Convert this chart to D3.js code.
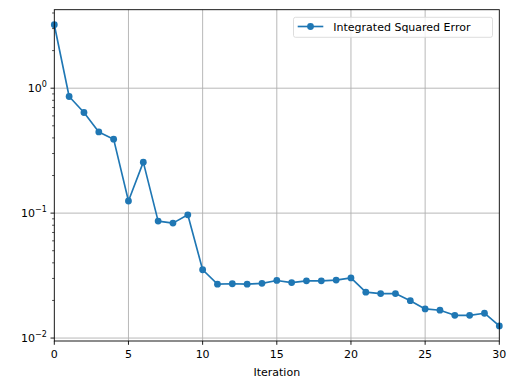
<!DOCTYPE html>
<html><head><meta charset="utf-8">
<script src="https://cdn.jsdelivr.net/npm/d3@7"></script>
<style>body{margin:0;background:#fff}svg{display:block;font-family:"DejaVu Sans",sans-serif}</style>
</head><body>
<svg id="c" width="507" height="379"></svg>
<script>
const iterations = d3.range(0, 31);
const errors = [3.22, 0.858, 0.639, 0.447, 0.391, 0.125, 0.256, 0.0863, 0.0832, 0.0969,
  0.0352, 0.0270, 0.0272, 0.0270, 0.0274, 0.0289, 0.0278, 0.0287, 0.0287, 0.0291,
  0.0303, 0.0233, 0.0227, 0.0227, 0.0199, 0.0171, 0.0167, 0.0152, 0.0152, 0.0158, 0.0125];
const xTicks = [0, 5, 10, 15, 20, 25, 30];
const yTicks = [1, 0.1, 0.01];
const yTickExp = ["0", "\u22121", "\u22122"];
const seriesName = "Integrated Squared Error";
const xLabel = "Iteration";

const L = 54.3, R = 499.3, T = 9.7, B = 341;
const svg = d3.select("#c");
const color = "#1f77b4";
const x = d3.scaleLinear().domain([0, 30]).range([L, R]);
const lmin = Math.log10(d3.min(errors)), lmax = Math.log10(d3.max(errors));
const m = (lmax - lmin) * 0.05;
const y = d3.scaleLog().domain([Math.pow(10, lmin - m), Math.pow(10, lmax + m)]).range([B, T]);

const g = svg.append("g");
// grid
g.selectAll(".gx").data(xTicks.filter(t => t > 0 && t < 30)).join("line")
  .attr("x1", d => x(d)).attr("x2", d => x(d)).attr("y1", T).attr("y2", B)
  .attr("stroke", "#b0b0b0").attr("stroke-width", 0.9);
g.selectAll(".gy").data(yTicks).join("line")
  .attr("x1", L).attr("x2", R).attr("y1", d => y(d)).attr("y2", d => y(d))
  .attr("stroke", "#b0b0b0").attr("stroke-width", 0.9);

// line + markers
const line = d3.line().x((d, i) => x(iterations[i])).y(d => y(d));
g.append("path").datum(errors).attr("d", line).attr("fill", "none")
  .attr("stroke", color).attr("stroke-width", 1.65).attr("stroke-linejoin", "round");
g.selectAll(".pt").data(errors).join("circle")
  .attr("cx", (d, i) => x(iterations[i])).attr("cy", d => y(d)).attr("r", 3.4).attr("fill", color);

// spines (clip markers outside by drawing white? keep simple)
svg.append("rect").attr("x", L).attr("y", T).attr("width", R - L).attr("height", B - T)
  .attr("fill", "none").attr("stroke", "#000").attr("stroke-width", 0.9);

// x axis ticks
const xa = svg.append("g");
xTicks.forEach(t => {
  xa.append("line").attr("x1", x(t)).attr("x2", x(t)).attr("y1", B).attr("y2", B + 3.8)
    .attr("stroke", "#000").attr("stroke-width", 0.9);
  xa.append("text").attr("x", x(t)).attr("y", B + 17).attr("text-anchor", "middle")
    .attr("font-size", 11).attr("fill", "#000").text(t);
});
svg.append("text").attr("x", (L + R) / 2).attr("y", B + 35).attr("text-anchor", "middle")
  .attr("font-size", 11).attr("fill", "#000").text(xLabel);

// y axis ticks
const ya = svg.append("g");
const [d0, d1] = y.domain();
const minors = [];
for (let e = -3; e <= 1; e++) for (let k = 2; k <= 9; k++) {
  const v = k * Math.pow(10, e);
  if (v >= d0 && v <= d1) minors.push(v);
}
minors.forEach(v => ya.append("line").attr("x1", L - 2.2).attr("x2", L).attr("y1", y(v)).attr("y2", y(v))
  .attr("stroke", "#000").attr("stroke-width", 0.7));
yTicks.forEach((t, i) => {
  ya.append("line").attr("x1", L - 3.8).attr("x2", L).attr("y1", y(t)).attr("y2", y(t))
    .attr("stroke", "#000").attr("stroke-width", 0.9);
  const tx = ya.append("text").attr("x", L - 7.5).attr("y", y(t) + 4).attr("text-anchor", "end")
    .attr("font-size", 11).attr("fill", "#000");
  tx.append("tspan").text("10");
  tx.append("tspan").attr("dy", -5).attr("font-size", 8).text(yTickExp[i]);
});

// legend
const lg = svg.append("g");
lg.append("rect").attr("x", 293.5).attr("y", 17.3).attr("width", 199).attr("height", 20)
  .attr("rx", 2).attr("fill", "#fff").attr("fill-opacity", 0.8).attr("stroke", "#d9d9d9").attr("stroke-width", 0.9);
lg.append("line").attr("x1", 297.7).attr("x2", 323.3).attr("y1", 26.5).attr("y2", 26.5)
  .attr("stroke", color).attr("stroke-width", 1.65);
lg.append("circle").attr("cx", 310.5).attr("cy", 26.5).attr("r", 3.4).attr("fill", color);
lg.append("text").attr("x", 333.3).attr("y", 30.5).attr("font-size", 11).attr("fill", "#000").text(seriesName);
</script>
</body></html>
